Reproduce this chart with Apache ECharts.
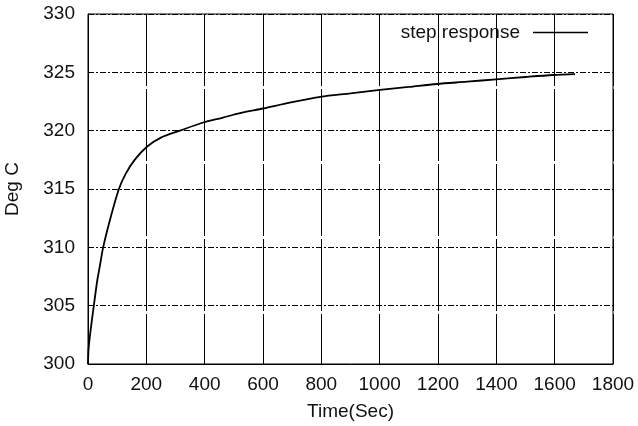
<!DOCTYPE html>
<html>
<head>
<meta charset="utf-8">
<script src="https://cdn.jsdelivr.net/npm/echarts@6/dist/echarts.min.js"></script>
<style>
html,body{margin:0;padding:0;background:#fff;}
#chart{width:638px;height:426px;}
</style>
</head>
<body>
<div id="chart"></div>
<script>
// 时间(秒)和温度
var times = [0, 2, 9, 20, 32, 40, 52, 78, 106, 129, 160, 201, 250, 315, 395, 460, 521, 601, 692, 797, 900, 1001, 1100, 1195, 1300, 1399, 1500, 1595, 1670];
var temps = [300, 301.3, 302.9, 305, 307.2, 308.3, 310, 312.6, 315, 316.3, 317.5, 318.6, 319.4, 320.0, 320.7, 321.1, 321.5, 321.9, 322.4, 322.9, 323.2, 323.5, 323.75, 324.0, 324.2, 324.4, 324.6, 324.77, 324.85];
var xTicks = [0, 1800, 200];
var yTicks = [300, 330, 5];

var points = [];
for (var i = 0; i < times.length; i++) {
    points.push([times[i], temps[i]]);
}

var font = 'Liberation Sans, Arial, sans-serif';
var myChart = echarts.init(document.getElementById('chart'));
var option = {
    animation: false,
    backgroundColor: '#fff',
    grid: {
        left: 88,
        right: 25,
        top: 14,
        bottom: 62,
        outerBoundsMode: 'none',
        containLabel: false,
        show: true,
        borderColor: '#000',
        borderWidth: 1
    },
    legend: {
        data: ['step response'],
        right: 45,
        top: 18,
        align: 'right',
        icon: 'rect',
        itemWidth: 55,
        itemHeight: 1.5,
        itemGap: 10,
        itemStyle: {color: '#000'},
        textStyle: {color: '#111', fontSize: 19, fontFamily: font, padding: [0, 8, 0, 0]}
    },
    xAxis: {
        type: 'value',
        min: xTicks[0],
        max: xTicks[1],
        interval: xTicks[2],
        name: 'Time(Sec)',
        nameLocation: 'middle',
        nameGap: 38,
        nameTextStyle: {color: '#111', fontSize: 19, fontFamily: font},
        axisLine: {lineStyle: {color: '#000', width: 1}},
        axisTick: {show: false},
        axisLabel: {
            color: '#111', fontSize: 19, fontFamily: font, margin: 11,
            formatter: function (v) { return String(v); }
        },
        splitLine: {lineStyle: {color: '#000', width: 1, type: [72, 3]}}
    },
    yAxis: {
        type: 'value',
        min: yTicks[0],
        max: yTicks[1],
        interval: yTicks[2],
        name: 'Deg C',
        nameLocation: 'middle',
        nameGap: 66,
        nameTextStyle: {color: '#111', fontSize: 19, fontFamily: font},
        axisLine: {show: true, lineStyle: {color: '#000', width: 1}},
        axisTick: {show: false},
        axisLabel: {
            color: '#111', fontSize: 19, fontFamily: font, margin: 13,
            formatter: function (v) { return String(v); }
        },
        splitLine: {lineStyle: {color: '#000', width: 1, type: [6, 2, 2, 2]}}
    },
    series: [{
        name: 'step response',
        type: 'line',
        data: points,
        symbol: 'none',
        smooth: 0.3,
        itemStyle: {color: '#000'},
        lineStyle: {color: '#000', width: 1.8}
    }]
};
myChart.setOption(option);
</script>
</body>
</html>
